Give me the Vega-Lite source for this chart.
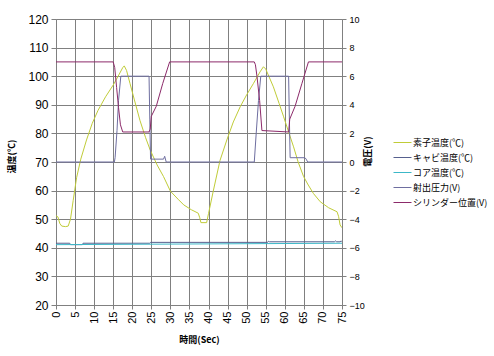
{
  "$schema": "https://vega.github.io/schema/vega-lite/v6.json",
  "width": 286,
  "height": 286,
  "autosize": {"type": "none"},
  "padding": {"left": 56, "top": 19, "right": 152, "bottom": 51},
  "background": "white",
  "config": {
    "view": {"stroke": null},
    "font": "Liberation Sans",
    "axis": {"gridColor": "#808080", "gridOpacity": 1, "gridWidth": 1, "domainColor": "#808080", "tickColor": "#808080", "labelColor": "#000000", "titleColor": "#000000"}
  },
  "datasets": {
    "temp": [
      {"s": "素子温度(℃)", "t": 0, "v": 51.2}, {"s": "素子温度(℃)", "t": 0.5, "v": 50.8}, {"s": "素子温度(℃)", "t": 1, "v": 48.5}, {"s": "素子温度(℃)", "t": 1.5, "v": 47.6}, {"s": "素子温度(℃)", "t": 2.5, "v": 47.4}, {"s": "素子温度(℃)", "t": 3.2, "v": 47.6}, {"s": "素子温度(℃)", "t": 3.8, "v": 50}, {"s": "素子温度(℃)", "t": 4.5, "v": 56.5}, {"s": "素子温度(℃)", "t": 5.4, "v": 64.5}, {"s": "素子温度(℃)", "t": 6.5, "v": 71}, {"s": "素子温度(℃)", "t": 8, "v": 77.7}, {"s": "素子温度(℃)", "t": 9.5, "v": 83.5}, {"s": "素子温度(℃)", "t": 11, "v": 88}, {"s": "素子温度(℃)", "t": 13, "v": 92.8}, {"s": "素子温度(℃)", "t": 15, "v": 96.9}, {"s": "素子温度(℃)", "t": 16.5, "v": 100.5}, {"s": "素子温度(℃)", "t": 17.5, "v": 103}, {"s": "素子温度(℃)", "t": 17.9, "v": 103.6}, {"s": "素子温度(℃)", "t": 18.5, "v": 102}, {"s": "素子温度(℃)", "t": 19.4, "v": 97.5}, {"s": "素子温度(℃)", "t": 20.5, "v": 92}, {"s": "素子温度(℃)", "t": 22, "v": 84.6}, {"s": "素子温度(℃)", "t": 23.5, "v": 78.5}, {"s": "素子温度(℃)", "t": 24.7, "v": 74.2}, {"s": "素子温度(℃)", "t": 26.5, "v": 69}, {"s": "素子温度(℃)", "t": 28.2, "v": 64.9}, {"s": "素子温度(℃)", "t": 30, "v": 59.8}, {"s": "素子温度(℃)", "t": 32, "v": 57}, {"s": "素子温度(℃)", "t": 33.5, "v": 55}, {"s": "素子温度(℃)", "t": 35.5, "v": 53.3}, {"s": "素子温度(℃)", "t": 37.3, "v": 52.1}, {"s": "素子温度(℃)", "t": 37.7, "v": 50.5}, {"s": "素子温度(℃)", "t": 38, "v": 48.8}, {"s": "素子温度(℃)", "t": 39.5, "v": 48.8}, {"s": "素子温度(℃)", "t": 40, "v": 52}, {"s": "素子温度(℃)", "t": 41.3, "v": 60.2}, {"s": "素子温度(℃)", "t": 43, "v": 70.5}, {"s": "素子温度(℃)", "t": 44.8, "v": 77.7}, {"s": "素子温度(℃)", "t": 46.5, "v": 84}, {"s": "素子温度(℃)", "t": 48.3, "v": 89.3}, {"s": "素子温度(℃)", "t": 50, "v": 93.5}, {"s": "素子温度(℃)", "t": 51.8, "v": 97.5}, {"s": "素子温度(℃)", "t": 53.5, "v": 101.5}, {"s": "素子温度(℃)", "t": 54.4, "v": 103.3}, {"s": "素子温度(℃)", "t": 55, "v": 102.5}, {"s": "素子温度(℃)", "t": 57, "v": 96.3}, {"s": "素子温度(℃)", "t": 58.5, "v": 90.5}, {"s": "素子温度(℃)", "t": 59.7, "v": 85.8}, {"s": "素子温度(℃)", "t": 61, "v": 80.5}, {"s": "素子温度(℃)", "t": 62.3, "v": 75.3}, {"s": "素子温度(℃)", "t": 63.5, "v": 70}, {"s": "素子温度(℃)", "t": 64.9, "v": 65}, {"s": "素子温度(℃)", "t": 66, "v": 62.3}, {"s": "素子温度(℃)", "t": 67.5, "v": 59}, {"s": "素子温度(℃)", "t": 69.3, "v": 56.1}, {"s": "素子温度(℃)", "t": 71.5, "v": 54}, {"s": "素子温度(℃)", "t": 73.7, "v": 52.6}, {"s": "素子温度(℃)", "t": 74.1, "v": 51}, {"s": "素子温度(℃)", "t": 74.5, "v": 48}, {"s": "素子温度(℃)", "t": 75, "v": 47},
      {"s": "キャビ温度(℃)", "t": 0, "v": 41.6}, {"s": "キャビ温度(℃)", "t": 3.6, "v": 41.6}, {"s": "キャビ温度(℃)", "t": 3.8, "v": 41.1}, {"s": "キャビ温度(℃)", "t": 6.9, "v": 41.1}, {"s": "キャビ温度(℃)", "t": 7.1, "v": 41.6}, {"s": "キャビ温度(℃)", "t": 24.6, "v": 41.6}, {"s": "キャビ温度(℃)", "t": 24.8, "v": 41.9}, {"s": "キャビ温度(℃)", "t": 55.5, "v": 41.9}, {"s": "キャビ温度(℃)", "t": 55.7, "v": 42.3}, {"s": "キャビ温度(℃)", "t": 56, "v": 42.1}, {"s": "キャビ温度(℃)", "t": 73, "v": 42.1}, {"s": "キャビ温度(℃)", "t": 73.3, "v": 42.4}, {"s": "キャビ温度(℃)", "t": 73.6, "v": 42.1}, {"s": "キャビ温度(℃)", "t": 74.5, "v": 42.1}, {"s": "キャビ温度(℃)", "t": 74.8, "v": 42.4}, {"s": "キャビ温度(℃)", "t": 75, "v": 42.1},
      {"s": "コア温度(℃)", "t": 0, "v": 41.1}, {"s": "コア温度(℃)", "t": 30, "v": 41.3}, {"s": "コア温度(℃)", "t": 75, "v": 41.6}
    ],
    "volt": [
      {"s": "射出圧力(V)", "t": 0, "v": 0}, {"s": "射出圧力(V)", "t": 15.3, "v": 0}, {"s": "射出圧力(V)", "t": 15.5, "v": 0.3}, {"s": "射出圧力(V)", "t": 16, "v": 2.2}, {"s": "射出圧力(V)", "t": 16.4, "v": 4.3}, {"s": "射出圧力(V)", "t": 17, "v": 6}, {"s": "射出圧力(V)", "t": 24.4, "v": 6}, {"s": "射出圧力(V)", "t": 24.6, "v": 3}, {"s": "射出圧力(V)", "t": 24.8, "v": 0.2}, {"s": "射出圧力(V)", "t": 28.2, "v": 0.2}, {"s": "射出圧力(V)", "t": 28.5, "v": 0.4}, {"s": "射出圧力(V)", "t": 28.9, "v": 0}, {"s": "射出圧力(V)", "t": 52, "v": 0}, {"s": "射出圧力(V)", "t": 52.5, "v": 2}, {"s": "射出圧力(V)", "t": 53.1, "v": 4.3}, {"s": "射出圧力(V)", "t": 53.7, "v": 6}, {"s": "射出圧力(V)", "t": 61, "v": 6}, {"s": "射出圧力(V)", "t": 61.2, "v": 3}, {"s": "射出圧力(V)", "t": 61.4, "v": 0.3}, {"s": "射出圧力(V)", "t": 65.3, "v": 0.3}, {"s": "射出圧力(V)", "t": 65.6, "v": 0.2}, {"s": "射出圧力(V)", "t": 66, "v": 0}, {"s": "射出圧力(V)", "t": 75, "v": 0},
      {"s": "シリンダー位置(V)", "t": 0, "v": 7}, {"s": "シリンダー位置(V)", "t": 15, "v": 7}, {"s": "シリンダー位置(V)", "t": 15.4, "v": 6.6}, {"s": "シリンダー位置(V)", "t": 15.9, "v": 5.2}, {"s": "シリンダー位置(V)", "t": 16.4, "v": 3.8}, {"s": "シリンダー位置(V)", "t": 16.9, "v": 2.6}, {"s": "シリンダー位置(V)", "t": 17.5, "v": 2.1}, {"s": "シリンダー位置(V)", "t": 24.4, "v": 2.1}, {"s": "シリンダー位置(V)", "t": 24.7, "v": 2.3}, {"s": "シリンダー位置(V)", "t": 25, "v": 3.2}, {"s": "シリンダー位置(V)", "t": 26.3, "v": 3.9}, {"s": "シリンダー位置(V)", "t": 28, "v": 5.5}, {"s": "シリンダー位置(V)", "t": 29.8, "v": 7}, {"s": "シリンダー位置(V)", "t": 52, "v": 7}, {"s": "シリンダー位置(V)", "t": 52.3, "v": 6.8}, {"s": "シリンダー位置(V)", "t": 52.7, "v": 6}, {"s": "シリンダー位置(V)", "t": 53.4, "v": 4.3}, {"s": "シリンダー位置(V)", "t": 54, "v": 2.2}, {"s": "シリンダー位置(V)", "t": 61, "v": 2.1}, {"s": "シリンダー位置(V)", "t": 61.3, "v": 3}, {"s": "シリンダー位置(V)", "t": 62.7, "v": 3.9}, {"s": "シリンダー位置(V)", "t": 64.5, "v": 5.5}, {"s": "シリンダー位置(V)", "t": 66.2, "v": 7}, {"s": "シリンダー位置(V)", "t": 75, "v": 7}
    ]
  },
  "encoding": {
    "x": {
      "field": "t", "type": "quantitative",
      "scale": {"domain": [0, 75], "nice": false, "zero": false},
      "axis": {
        "title": "時間(Sec)", "values": [0,5,10,15,20,25,30,35,40,45,50,55,60,65,70,75],
        "labelAngle": -90, "labelFontSize": 11, "labelPadding": 2, "tickSize": 4,
        "titleFontSize": 9, "titleFont": "Noto Sans CJK JP", "titleFontWeight": "bold",
        "titleY": 34, "titleBaseline": "middle", "grid": true
      }
    },
    "color": {
      "field": "s", "type": "nominal",
      "scale": {
        "domain": ["素子温度(℃)", "キャビ温度(℃)", "コア温度(℃)", "射出圧力(V)", "シリンダー位置(V)"],
        "range": ["#c0cc38", "#56608e", "#3cb8c8", "#6e6ea0", "#8c2a6a"]
      },
      "legend": {
        "title": null, "orient": "none", "legendX": 337, "legendY": 114,
        "symbolType": "stroke", "symbolSize": 324, "symbolStrokeWidth": 1,
        "labelFont": "Noto Sans CJK JP", "labelFontSize": 9, "labelColor": "#000000",
        "rowPadding": -1.8, "labelOffset": 1, "padding": 0, "labelLimit": 100
      }
    }
  },
  "layer": [
    {
      "data": {"name": "temp"},
      "mark": {"type": "line", "strokeWidth": 1, "clip": true},
      "encoding": {
        "y": {
          "field": "v", "type": "quantitative",
          "scale": {"domain": [20, 120], "nice": false, "zero": false},
          "axis": {
            "title": "温度(℃)", "values": [20,30,40,50,60,70,80,90,100,110,120],
            "labelFontSize": 12, "tickSize": 5, "labelPadding": 3,
            "titleFont": "Noto Sans CJK JP", "titleFontSize": 9, "titleFontWeight": "bold",
            "titleX": -40, "titleY": 137, "grid": true
          }
        }
      }
    },
    {
      "data": {"name": "volt"},
      "mark": {"type": "line", "strokeWidth": 1, "clip": true},
      "encoding": {
        "y": {
          "field": "v", "type": "quantitative",
          "scale": {"domain": [-10, 10], "nice": false, "zero": false},
          "axis": {
            "orient": "right", "title": "電圧(V)", "values": [-10,-8,-6,-4,-2,0,2,4,6,8,10],
            "labelFontSize": 9, "tickSize": 4, "labelPadding": 3, "grid": false,
            "titleFont": "Noto Sans CJK JP", "titleFontSize": 9, "titleFontWeight": "bold",
            "titleAngle": 270, "titleX": 30, "titleY": 132
          }
        }
      }
    }
  ],
  "resolve": {"scale": {"y": "independent"}}
}
